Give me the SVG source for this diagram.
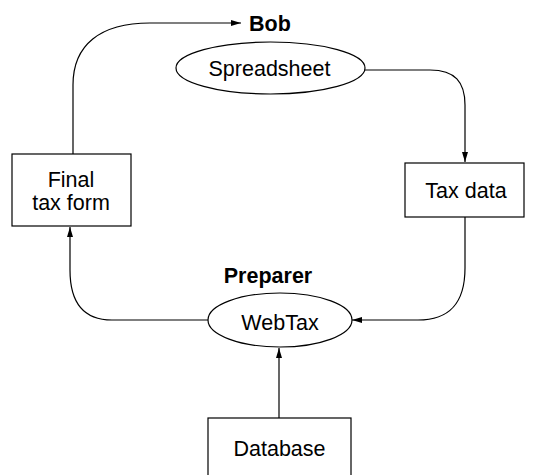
<svg xmlns="http://www.w3.org/2000/svg" width="540" height="475" viewBox="0 0 540 475">
<style>
.shape{fill:#fff;stroke:#000;stroke-width:1.2}
.lbl{font-family:"Liberation Sans",Arial,sans-serif;font-size:21.5px;text-anchor:middle;fill:#000}
.bold{font-weight:bold}
.edge{fill:none;stroke:#000;stroke-width:1.2;marker-end:url(#ah)}
</style>
<defs>
<marker id="ah" viewBox="0 0 10 6" refX="10" refY="3" markerWidth="10" markerHeight="6" markerUnits="userSpaceOnUse" orient="auto">
<path d="M0,0 L10,3 L0,6 Z" fill="#000"/>
</marker>
</defs>
<rect width="540" height="475" fill="#fff"/>
<g id="connectors">
<path class="edge" d="M73,154 L73,85 C73,45 100,23 150,23 L241,23"/>
<path class="edge" d="M365,70 L430,70 C455,70 465,82 465,105 L465,162"/>
<path class="edge" d="M465,217 L465,268 C465,305 448,320 418,320 L352,320"/>
<path class="edge" d="M208,320 L112,320 C82,320 70,300 70,270 L70,227"/>
<path class="edge" d="M279,418 L279,348"/>
</g>
<g id="bob"><text class="lbl bold" x="270" y="31">Bob</text></g>
<g id="spreadsheet">
<ellipse class="shape" cx="270.5" cy="68" rx="94.5" ry="26"/>
<text class="lbl" x="269.5" y="76">Spreadsheet</text>
</g>
<g id="final-tax-form">
<rect class="shape" x="12" y="154" width="119" height="72"/>
<text class="lbl" x="71" y="187">Final</text>
<text class="lbl" x="71" y="210">tax form</text>
</g>
<g id="tax-data">
<rect class="shape" x="405" y="163" width="119" height="54"/>
<text class="lbl" x="466" y="198">Tax data</text>
</g>
<g id="preparer"><text class="lbl bold" x="268" y="283">Preparer</text></g>
<g id="webtax">
<ellipse class="shape" cx="280" cy="320" rx="72" ry="27"/>
<text class="lbl" x="280" y="330">WebTax</text>
</g>
<g id="database">
<rect class="shape" x="208" y="418" width="143" height="62"/>
<text class="lbl" x="279.5" y="456">Database</text>
</g>
</svg>
